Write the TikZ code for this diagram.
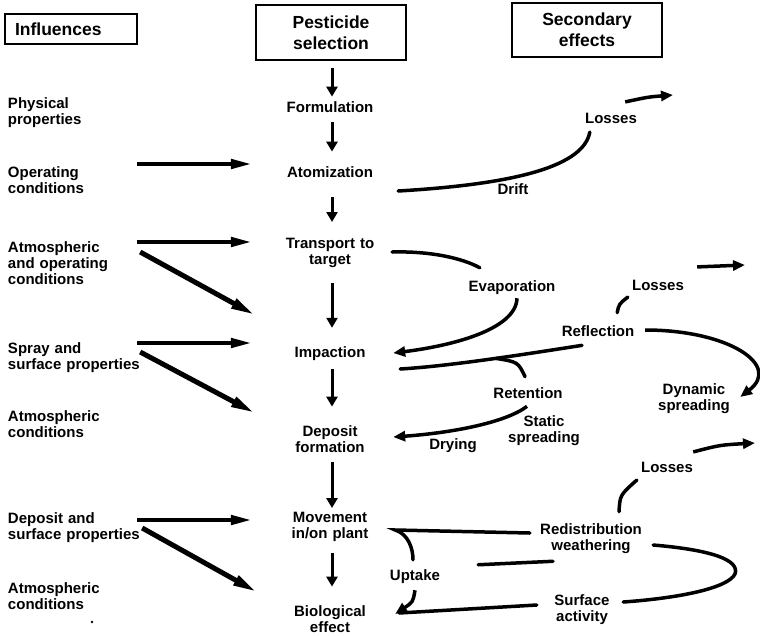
\documentclass[tikz,border=0pt]{standalone}
\usepackage{fontspec}
\setmainfont{Liberation Sans}
\usetikzlibrary{arrows.meta}
\begin{document}
\begin{tikzpicture}[x=1pt,y=-1pt,
  hdr/.style={draw, line width=1.2pt, font=\fontsize{17.5}{21}\selectfont\bfseries, align=center, inner sep=0pt},
  lab/.style={font=\fontsize{15}{16}\selectfont\bfseries, inner sep=2pt},
  infl/.style={lab, text width=142pt, align=left},
  mid/.style={lab, text width=146pt, align=center},
  sec/.style={lab, align=center},
  varr/.style={line width=3pt, -{Triangle[length=10pt,width=11pt]}},
  harr/.style={line width=4.5pt, -{Triangle[length=22pt,width=9pt]}},
  darr/.style={line width=5pt, -{Triangle[length=24pt,width=10pt]}},
  crv/.style={line width=3.5pt, line cap=round},
  carr/.style={line width=3.5pt, -{Triangle[length=12pt,width=10pt]}}]
\useasboundingbox (0,0) rectangle (760,635);

% headers
\node[hdr, minimum width=132pt, minimum height=30pt, text width=112pt, align=left] (hinf) at (71,29) {Influences};
\node[hdr, minimum width=150pt, minimum height=55pt] (hpest) at (331,32.5) {Pesticide\\selection};
\node[hdr, minimum width=150pt, minimum height=54pt] (hsec) at (587,30) {Secondary\\effects};

% influences
\node[infl] (phys) at (79,112.3) {Physical\\properties};
\node[infl] (oper) at (79,179.7) {Operating\\conditions};
\node[infl] (atm1) at (79,262.7) {Atmospheric\\and operating\\conditions};
\node[infl] (spray) at (79,357.3) {Spray and\\surface properties};
\node[infl] (atm2) at (79,424) {Atmospheric\\conditions};
\node[infl] (dep) at (79,527.3) {Deposit and\\surface properties};
\node[infl] (atm3) at (79,595.7) {Atmospheric\\conditions};

% main chain
\node[mid] (form) at (330,107) {Formulation};
\node[mid] (atom) at (330,172) {Atomization};
\node[mid] (trans) at (330,252.8) {Transport to\\target};
\node[mid] (imp) at (330,353.75) {Impaction};
\node[mid] (depf) at (330,438.7) {Deposit\\formation};
\node[mid] (mov) at (330,527.3) {Movement\\in/on plant};
\node[mid] (bio) at (330,619) {Biological\\effect};

% secondary effects
\node[sec] (loss1) at (611,118.7) {Losses};
\node[sec] (drift) at (513,188.7) {Drift};
\node[sec] (evap) at (512,287.7) {Evaporation};
\node[sec] (loss2) at (658,285.5) {Losses};
\node[sec] (refl) at (598,331.5) {Reflection};
\node[sec] (ret) at (528,393.5) {Retention};
\node[sec] (dyn) at (694,398.3) {Dynamic\\spreading};
\node[sec] (stat) at (544,430.3) {Static\\spreading};
\node[sec] (dry) at (453,445.3) {Drying};
\node[sec] (loss3) at (667,467) {Losses};
\node[sec] (redis) at (591,538.3) {Redistribution\\weathering};
\node[sec] (upt) at (415,577) {Uptake};
\node[sec] (surf) at (582,609.3) {Surface\\activity};

\coordinate (lo1) at (673,95);
\coordinate (lo2) at (745,265);
\coordinate (lo3) at (755,443);

% vertical chain arrows
\draw[varr] ([shift={(1,7)}]hpest.south) -- ([shift={(2,-2.65)}]form.north);
\draw[varr] ([shift={(2,7.65)}]form.south) -- ([shift={(2,-12.65)}]atom.north);
\draw[varr] ([shift={(2,17.65)}]atom.south) -- ([shift={(2,-13.85)}]trans.north);
\draw[varr] ([shift={(2,13.25)}]trans.south) -- ([shift={(2,-16.8)}]imp.north);
\draw[varr] ([shift={(2,6.3)}]imp.south) -- ([shift={(2,-16.35)}]depf.north);
\draw[varr] ([shift={(2,8)}]depf.south) -- ([shift={(2,-2.35)}]mov.north);
\draw[varr] ([shift={(2,8.75)}]mov.south) -- ([shift={(2,-16.65)}]bio.north);

% influence arrows
\draw[harr] ([shift={(-15,-15.7)}]oper.east) -- ([shift={(-2,-8)}]atom.west);
\draw[harr] ([shift={(-15,-20.7)}]atm1.east) -- ([shift={(-2,-10.8)}]trans.west);
\draw[darr] ([shift={(-12,-10.7)}]atm1.east) -- ([shift={(0,-38.75)}]imp.west);
\draw[harr] ([shift={(-15,-14.3)}]spray.east) -- ([shift={(-2,-10.75)}]imp.west);
\draw[darr] ([shift={(-12,-5.3)}]spray.east) -- ([shift={(0,-25.7)}]depf.west);
\draw[harr] ([shift={(-15,-7.3)}]dep.east) -- ([shift={(-2,-7.3)}]mov.west);
\draw[darr] ([shift={(-10,0.7)}]dep.east) -- ([shift={(2,-27)}]bio.west);

% drift and losses
\draw[crv] ([shift={(-7,19)}]atom.east) .. controls (500,185) and (583,170) .. ([shift={(6.85,5.95)}]loss1.south west);
\draw[carr] ([shift={(-13.85,-9.35)}]loss1.north east) .. controls (648,97) .. (lo1);

% transport - evaporation - impaction
\draw[crv] ([shift={(-13,-0.8)}]trans.east) .. controls (430,251) and (462,258) .. ([shift={(13.35,-10.75)}]evap.north west);
\draw[carr] ([shift={(5,1.35)}]evap.south) .. controls (516,330) and (450,346) .. ([shift={(-12,-0.75)}]imp.east);

% reflection
\draw[crv] ([shift={(-16,6.15)}]refl.south) .. controls (520,355) and (450,366) .. coordinate[pos=0.45] (rb) ([shift={(-5,15.25)}]imp.east);
\draw[crv] (rb) .. controls (518,362) .. ([shift={(-3,-9.15)}]ret.north);
\draw[crv] ([shift={(-19.25,-11.15)}]refl.north east) .. controls (619,304) .. ([shift={(-2.15,4.15)}]loss2.south west);
\draw[carr] ([shift={(11.15,-11.15)}]loss2.north east) -- (lo2);
\draw[carr] ([shift={(8.75,-1.5)}]refl.east) .. controls (728,330) and (782,365) .. ([shift={(8.15,-1.3)}]dyn.east);

% retention - drying
\draw[carr] ([shift={(-1,5.15)}]ret.south) .. controls (505,423) and (450,433) .. ([shift={(-12,-1.7)}]depf.east);

% redistribution
\draw[crv] ([shift={(28,-9.35)}]redis.north) .. controls (620,495) .. ([shift={(-2.15,5.65)}]loss3.south west);
\draw[carr] ([shift={(-1.85,-7.65)}]loss3.north east) .. controls (720,445) .. (lo3);
\draw[crv] ([shift={(-8.15,-5.3)}]redis.west) -- ([shift={(-10,2.7)}]mov.east) .. controls (408,534) and (413,548) .. ([shift={(-2,-8.05)}]upt.north);
\draw[crv] ([shift={(-38,5.75)}]redis.south) -- ([shift={(36,-3.05)}]upt.north east);
\draw[crv] ([shift={(9.15,6.7)}]redis.east) .. controls (712,550) and (740,560) .. (735,574) .. controls (728,588) and (680,598) .. ([shift={(11.5,-7.3)}]surf.east);
\draw[crv] ([shift={(-15.5,-4.3)}]surf.west) -- ([shift={(-6,-6)}]bio.east);
\draw[carr] ([shift={(0,4.05)}]upt.south) .. controls (413,602) .. ([shift={(-10,-5)}]bio.east);

\fill (92,622) circle (1.3pt);
\end{tikzpicture}
\end{document}
